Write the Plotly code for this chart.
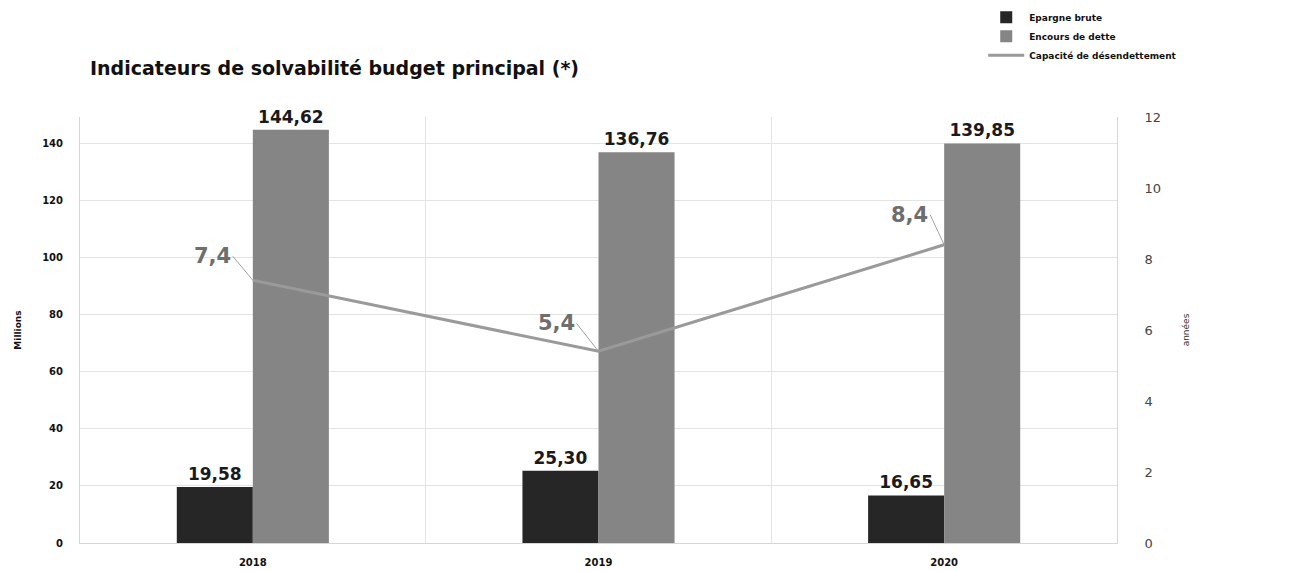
import plotly.graph_objects as go

years = ["2018", "2019", "2020"]
epargne_brute = [19.58, 25.30, 16.65]
encours_dette = [144.62, 136.76, 139.85]
capacite_desendettement = [7.4, 5.4, 8.4]
left_ticks = [0, 20, 40, 60, 80, 100, 120, 140]
right_ticks = [0, 2, 4, 6, 8, 10, 12]

FONT = "DejaVu Sans"


def fr(v, nd):
    return f"{v:.{nd}f}".replace(".", ",")


fig = go.Figure()

fig.add_trace(go.Bar(
    x=years, y=epargne_brute, name="Epargne brute",
    marker=dict(color="#262626", line=dict(width=0)),
    text=[fr(v, 2) for v in epargne_brute], textposition="outside",
    textfont=dict(family=FONT, size=17, color="#1a1a1a", weight="bold"),
    cliponaxis=False,
))
fig.add_trace(go.Bar(
    x=years, y=encours_dette, name="Encours de dette",
    marker=dict(color="#858585", line=dict(width=0)),
    text=[fr(v, 2) for v in encours_dette], textposition="outside",
    textfont=dict(family=FONT, size=17, color="#1a1a1a", weight="bold"),
    cliponaxis=False,
))
fig.add_trace(go.Scatter(
    x=years, y=capacite_desendettement, name="Capacité de désendettement",
    mode="lines", line=dict(color="#9a9a9a", width=3),
    yaxis="y2",
))

# value labels for the line, offset to the upper left with a leader line
offsets = [(-20, -24), (-22, -28), (-14, -30)]
for i, (v, (ax, ay)) in enumerate(zip(capacite_desendettement, offsets)):
    fig.add_annotation(
        x=i, y=v, xref="x", yref="y2", text=fr(v, 1),
        showarrow=True, arrowhead=0, arrowwidth=1, arrowcolor="#a0a0a0",
        ax=ax, ay=ay, xanchor="right",
        font=dict(family=FONT, size=21, color="#6e6e6e", weight="bold"),
    )

fig.update_layout(
    width=1302, height=571,
    margin=dict(l=80, r=185, t=117, b=28, autoexpand=False),
    paper_bgcolor="white", plot_bgcolor="white",
    barmode="group", bargap=0.56, bargroupgap=0,
    showlegend=True,
    legend=dict(
        x=0.871, y=1.268, xanchor="left", yanchor="top",
        font=dict(family=FONT, size=9, color="#111", weight="bold"),
        tracegroupgap=0, itemwidth=36, bgcolor="rgba(0,0,0,0)",
    ),
    title=dict(
        text="Indicateurs de solvabilité budget principal (*)",
        x=90 / 1302, xanchor="left", y=1 - 68 / 571, yanchor="middle",
        font=dict(family=FONT, size=19, color="#111", weight="bold"),
    ),
    xaxis=dict(
        type="category", categoryorder="array", categoryarray=years,
        showgrid=True, tickson="boundaries",
        gridcolor="#e3e3e3", gridwidth=1, ticks="",
        showline=True, linecolor="#d6d6d6",
        ticklabelstandoff=10,
        tickfont=dict(family=FONT, size=10, color="#111", weight="bold"),
    ),
    yaxis=dict(
        range=[0, 149.1], tickvals=left_ticks,
        showgrid=True, gridcolor="#e3e3e3", gridwidth=1,
        showline=True, linecolor="#d6d6d6", zeroline=False,
        tickfont=dict(family=FONT, size=10, color="#111", weight="bold"),
        ticklabelstandoff=14,
        title=dict(text="Millions", standoff=18,
                   font=dict(family=FONT, size=9, color="#111", weight="bold")),
    ),
    yaxis2=dict(
        range=[0, 12], tickvals=right_ticks, overlaying="y", side="right",
        showgrid=False, showline=True, linecolor="#d6d6d6", zeroline=False,
        tickfont=dict(family=FONT, size=13, color="#444"),
        ticklabelstandoff=24,
        title=dict(text="années", standoff=22,
                   font=dict(family=FONT, size=9, color="#333")),
    ),
)

fig.write_html("out.html")
